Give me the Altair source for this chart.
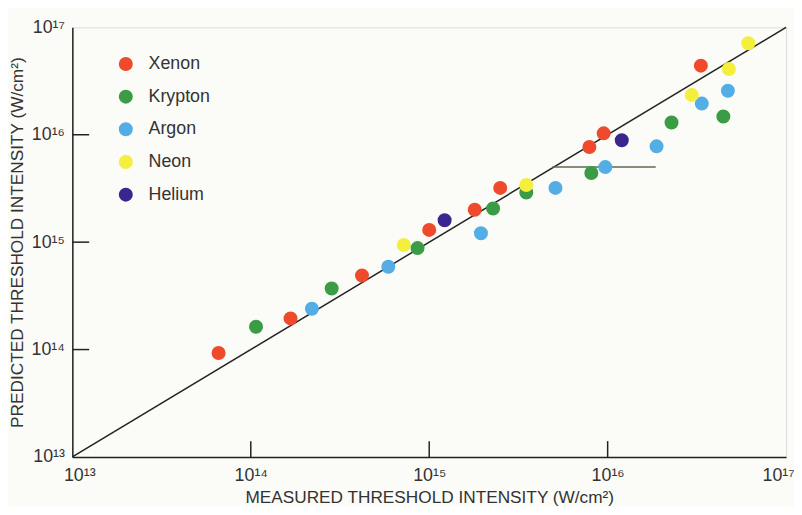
import altair as alt
import pandas as pd

# ---- data ----
elements = ["Xenon", "Krypton", "Argon", "Neon", "Helium"]
colors = ["#ef4a2b", "#3a9c44", "#52aee4", "#f4ee3c", "#3b2690"]

xenon_measured = [6.6e13, 1.67e14, 4.2e14, 1.0e15, 1.8e15, 2.5e15, 7.9e15, 9.5e15, 3.33e16]
xenon_predicted = [9.3e13, 1.95e14, 4.9e14, 1.3e15, 2.0e15, 3.2e15, 7.7e15, 1.03e16, 4.4e16]

krypton_measured = [1.07e14, 2.84e14, 8.6e14, 2.28e15, 3.5e15, 8.1e15, 2.28e16, 4.45e16]
krypton_predicted = [1.63e14, 3.7e14, 8.8e14, 2.06e15, 2.9e15, 4.4e15, 1.3e16, 1.48e16]

argon_measured = [2.2e14, 5.9e14, 1.95e15, 5.1e15, 9.7e15, 1.88e16, 3.37e16, 4.72e16]
argon_predicted = [2.4e14, 5.9e14, 1.21e15, 3.2e15, 5.0e15, 7.8e15, 1.95e16, 2.57e16]

neon_measured = [7.2e14, 3.5e15, 2.96e16, 4.78e16, 6.14e16]
neon_predicted = [9.4e14, 3.4e15, 2.35e16, 4.1e16, 7.1e16]

helium_measured = [1.22e15, 1.2e16]
helium_predicted = [1.6e15, 8.9e15]

# horizontal error bar on one argon point
errbar_x_low = [4.9e15]
errbar_x_high = [1.86e16]
errbar_y = [5.0e15]

diag_values = [1e13, 1e17]
decades = [1e13, 1e14, 1e15, 1e16, 1e17]
inner_ticks = [1e14, 1e15, 1e16]
sup_labels = ["¹³", "¹⁴", "¹⁵", "¹⁶", "¹⁷"]

# ---- tables ----
rows = []
for name, xs, ys in [
    ("Xenon", xenon_measured, xenon_predicted),
    ("Krypton", krypton_measured, krypton_predicted),
    ("Argon", argon_measured, argon_predicted),
    ("Neon", neon_measured, neon_predicted),
    ("Helium", helium_measured, helium_predicted),
]:
    for xv, yv in zip(xs, ys):
        rows.append({"measured": xv, "predicted": yv, "element": name})
points_df = pd.DataFrame(rows)
diag_df = pd.DataFrame({"measured": diag_values, "predicted": diag_values})
err_df = pd.DataFrame({"lo": errbar_x_low, "hi": errbar_x_high, "y": errbar_y})
ticks_df = pd.DataFrame({"v": inner_ticks})

W, H = 721, 434
FONT = "Liberation Sans"
label_expr = "'10' + " + str(sup_labels) + "[round(log(datum.value)/LN10) - 13]"

xscale = alt.Scale(type="log", domain=[1e13, 1e17], nice=False)
yscale = alt.Scale(type="log", domain=[1e13, 1e17], nice=False)

xaxis = alt.Axis(
    values=decades, labelExpr=label_expr, tickSize=0, grid=False,
    title="MEASURED THRESHOLD INTENSITY (W/cm²)", titleFontWeight="normal",
    titleFontSize=17.4, titleColor="#333",
    titleY=46, titleBaseline="alphabetic",
    labelFontSize=18, labelColor="#333", labelPadding=19, labelFlush=False,
    labelBaseline="middle",
    labelOffset={"expr": "datum.value <= 1e13 ? 7 : (datum.value >= 1e17 ? -8 : 0)"},
    domainColor="#222", domainWidth=1.5,
)
yaxis = alt.Axis(
    values=decades, labelExpr=label_expr, tickSize=0, grid=False,
    title="PREDICTED THRESHOLD INTENSITY (W/cm²)", titleFontWeight="normal",
    titleFontSize=17.4, titleColor="#333", titlePadding=5,
    labelFontSize=18, labelColor="#333", labelPadding=8, labelFlush=False,
    domainColor="#222", domainWidth=1.5,
)

diag = alt.Chart(diag_df).mark_line(color="#222", strokeWidth=1.5).encode(
    x=alt.X("measured:Q", scale=xscale, axis=xaxis),
    y=alt.Y("predicted:Q", scale=yscale, axis=yaxis),
)

err = alt.Chart(err_df).mark_rule(color="#5d6a55", strokeWidth=1.5).encode(
    x=alt.X("lo:Q", scale=xscale), x2="hi:Q", y=alt.Y("y:Q", scale=yscale)
)

pts = alt.Chart(points_df).mark_circle(size=200, opacity=1).encode(
    x=alt.X("measured:Q", scale=xscale),
    y=alt.Y("predicted:Q", scale=yscale),
    color=alt.Color(
        "element:N",
        scale=alt.Scale(domain=elements, range=colors),
        legend=alt.Legend(
            title=None, orient="none", legendX=45, legendY=28,
            symbolType="circle", symbolSize=200, symbolStrokeWidth=0,
            symbolOpacity=1,
            labelFontSize=18, labelFont=FONT, labelColor="#333",
            labelOffset=14, rowPadding=15, padding=0,
        ),
    ),
)

xticks = alt.Chart(ticks_df).mark_rule(color="#222", strokeWidth=1.5).encode(
    x=alt.X("v:Q", scale=xscale), y=alt.value(H), y2=alt.value(H - 16)
)
yticks = alt.Chart(ticks_df).mark_rule(color="#222", strokeWidth=1.5).encode(
    y=alt.Y("v:Q", scale=yscale), x=alt.value(0), x2=alt.value(17)
)

chart = alt.layer(diag, err, xticks, yticks, pts).properties(
    width=W, height=H,
    autosize=alt.AutoSizeParams(type="none"),
    padding={"left": 65, "top": 17, "right": 8, "bottom": 48},
    background="#fbfbf7",
).configure_view(
    stroke="#222", strokeWidth=1.5
).configure(font=FONT)

chart.save("out.html", embed_options={"renderer": "svg", "actions": False})
